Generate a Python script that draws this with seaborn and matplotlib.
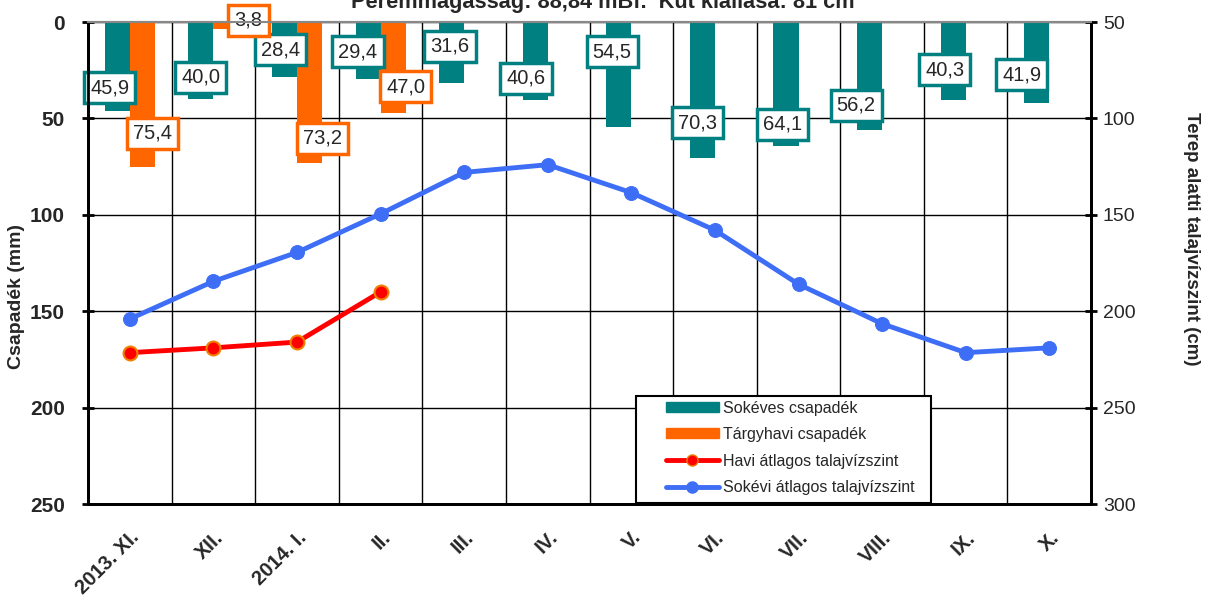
import numpy as np
import pandas as pd
import matplotlib
matplotlib.use("Agg")
import matplotlib.pyplot as plt
import seaborn as sns
from matplotlib.patches import Patch, Rectangle
from matplotlib.lines import Line2D

# data
honapok = ["2013. XI.", "XII.", "2014. I.", "II.", "III.", "IV.",
           "V.", "VI.", "VII.", "VIII.", "IX.", "X."]
sokeves_csapadek = [45.9, 40.0, 28.4, 29.4, 31.6, 40.6, 54.5, 70.3, 64.1, 56.2, 40.3, 41.9]
targyhavi_csapadek = [75.4, 3.8, 73.2, 47.0] + [np.nan] * 8
havi_szint = [221.5, 219.0, 216.0, 190.0]
sokevi_szint = [204.0, 184.5, 169.5, 149.5, 128.0, 124.0, 138.5, 158.0, 186.0, 206.5, 221.5, 219.0]

# label placement (layout only)
teal_dx = [-0.24, -0.15, -0.20, -0.27, -0.17, -0.26, -0.23, -0.21, -0.19, -0.31, -0.25, -0.33]
teal_dy = [11.7, 11.4, 14.0, 14.0, 19.0, 11.4, 39.0, 18.0, 11.0, 13.0, 15.5, 14.5]
orange_dx = [0.27, 0.42, 0.31, 0.30]
orange_dy = [17.6, 4.6, 13.0, 13.5]

TEAL = "#008080"
ORANGE = "#FF6600"
RED = "#FF0000"
BLUE = "#3D6EF5"

sns.set_style("white")
plt.rcParams["font.family"] = ["Liberation Sans", "DejaVu Sans"]

df = pd.DataFrame({
    "honap": honapok * 2,
    "sorozat": ["Sokéves csapadék"] * 12 + ["Tárgyhavi csapadék"] * 12,
    "csapadek": sokeves_csapadek + targyhavi_csapadek,
})

fig = plt.figure(figsize=(12.06, 6), dpi=100)
ax = fig.add_axes([0.073, 0.16, 0.8317, 0.8033])

sns.barplot(data=df, x="honap", y="csapadek", hue="sorozat", order=honapok,
            hue_order=["Sokéves csapadék", "Tárgyhavi csapadék"],
            palette=[TEAL, ORANGE], width=0.6, dodge=True, saturation=1,
            errorbar=None, linewidth=0, legend=False, ax=ax)
ax.set_xlim(-0.5, 11.5)
ax.set_ylim(250, 0)
ax.set_axisbelow(True)

x = np.arange(len(honapok))
ax2 = ax.twinx()
sns.lineplot(x=x, y=sokevi_szint, ax=ax2, color=BLUE, linewidth=3.5,
             marker="o", markersize=10, markeredgecolor=BLUE)
sns.lineplot(x=x[:len(havi_szint)], y=havi_szint, ax=ax2, color=RED, linewidth=3.5,
             marker="o", markersize=10, markerfacecolor=RED,
             markeredgecolor="#F08000", markeredgewidth=1.5)
ax2.set_ylim(300, 50)
ax2.set_xlim(-0.5, 11.5)

# value labels
for i, v in enumerate(sokeves_csapadek):
    ax.text(i + teal_dx[i], v - teal_dy[i], f"{v:.1f}".replace(".", ","),
            ha="center", va="center", fontsize=14.5, zorder=5,
            bbox=dict(boxstyle="square,pad=0.3", fc="white", ec=TEAL, lw=2.5))
for i, v in enumerate(targyhavi_csapadek[:4]):
    ax.text(i + orange_dx[i], v - orange_dy[i], f"{v:.1f}".replace(".", ","),
            ha="center", va="center", fontsize=14.5, zorder=5,
            bbox=dict(boxstyle="square,pad=0.3", fc="white", ec=ORANGE, lw=2.5))

# axes / grid styling
ax.set_yticks(range(0, 251, 50))
ax.set_yticklabels([str(t) for t in range(0, 251, 50)], fontweight="bold", fontsize=15)
ax.set_xticks(x)
ax.set_xticklabels(honapok, rotation=45, ha="right", rotation_mode="anchor",
                   fontweight="bold", fontsize=14.5)
ax.set_xticks(np.arange(-0.5, 12, 1), minor=True)
ax.tick_params(axis="x", which="major", length=0, pad=17)
ax.tick_params(axis="x", which="minor", length=6, width=2, direction="out", color="black")
ax.tick_params(axis="y", direction="inout", length=9, width=2, color="black", pad=12)
ax.yaxis.grid(True, color="black", lw=1)
ax.xaxis.grid(True, which="minor", color="black", lw=1)
ax.xaxis.grid(False, which="major")

ax2.set_yticks(range(50, 301, 50))
ax2.set_yticklabels([str(t) for t in range(50, 301, 50)], fontsize=14)
ax2.tick_params(axis="y", direction="inout", length=9, width=2, color="black", pad=4)

for a in (ax, ax2):
    for side in ("left", "right", "bottom"):
        a.spines[side].set_color("black")
        a.spines[side].set_linewidth(2)
    a.spines["top"].set_color("#888888")
    a.spines["top"].set_linewidth(1.5)

ax.set_xlabel("")
ax.set_ylabel("Csapadék (mm)", fontweight="bold", fontsize=14)
ax.yaxis.set_label_coords(-0.063, 0.43)
ax2.set_ylabel("Terep alatti talajvízszint (cm)", fontweight="bold", fontsize=13.5,
               rotation=270, va="bottom")
ax2.yaxis.set_label_coords(1.092, 0.55)

# legend with a fixed frame like the reference
frame = Rectangle((0.546, 0.002), 0.294, 0.222, transform=ax2.transAxes,
                  facecolor="white", edgecolor="black", lw=1.5, zorder=4)
ax2.add_patch(frame)
handles = [
    Patch(color=TEAL),
    Patch(color=ORANGE),
    Line2D([], [], color=RED, lw=3.5, marker="o", markersize=8,
           markerfacecolor=RED, markeredgecolor="#F08000"),
    Line2D([], [], color=BLUE, lw=3.5, marker="o", markersize=8),
]
labels = ["Sokéves csapadék", "Tárgyhavi csapadék",
          "Havi átlagos talajvízszint", "Sokévi átlagos talajvízszint"]
leg = ax2.legend(handles, labels, loc="lower left", bbox_to_anchor=(0.573, 0.012),
                 fontsize=11.5, handlelength=3.3, handleheight=0.6, labelspacing=0.72,
                 borderpad=0.2, handletextpad=0.3, frameon=False, borderaxespad=0)
leg.set_zorder(6)

fig.text(0.5, 0.986, "Peremmagasság: 88,84 mBf.  Kút kiállása: 81 cm",
         ha="center", va="baseline", fontsize=15.7, fontweight="bold")

fig.savefig("out.png", dpi=100)
